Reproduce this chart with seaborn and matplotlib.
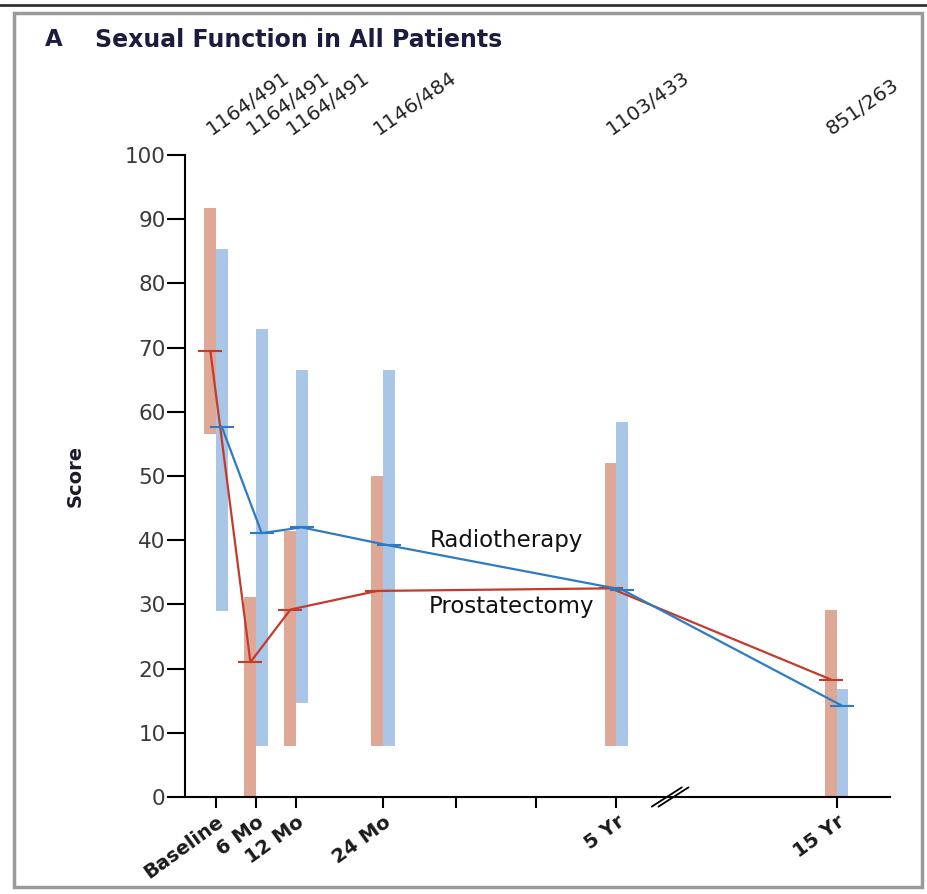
import matplotlib
matplotlib.use("Agg")
import matplotlib.pyplot as plt
import seaborn as sns
import pandas as pd
import numpy as np
from matplotlib.patches import Rectangle
from matplotlib.lines import Line2D

# ---------------- data ----------------
timepoints = ["Baseline", "6 Mo", "12 Mo", "24 Mo", "5 Yr", "15 Yr"]
axis_pos = [0, 6, 12, 25, 60, 93]          # position on the (broken) time axis
extra_ticks = [36, 48]                       # unlabeled yearly ticks
counts = ["1164/491", "1164/491", "1164/491", "1146/484", "1103/433", "851/263"]

prost_median = [69.5, 21.0, 29.2, 32.1, 32.5, 18.3]
prost_low = [56.5, 0.0, 8.0, 8.0, 8.0, 0.0]
prost_high = [91.7, 31.2, 41.4, 50.0, 52.0, 29.1]

radio_median = [57.7, 41.1, 42.0, 39.2, 32.3, 14.2]
radio_low = [29.0, 8.0, 14.6, 8.0, 8.0, 0.0]
radio_high = [85.4, 72.9, 66.5, 66.5, 58.4, 16.8]

# ---------------- style ----------------
sns.set_theme(style="white")
plt.rcParams["font.family"] = ["DejaVu Sans"]

bar_colors = {"Prostatectomy": "#dfa896", "Radiotherapy": "#a9c6e6"}
line_colors = {"Prostatectomy": "#c23b2c", "Radiotherapy": "#2d7cc3"}
offset = {"Prostatectomy": -0.85, "Radiotherapy": 0.85}
bar_w = 1.75

fig = plt.figure(figsize=(9.27, 8.94), dpi=100)
ax = fig.add_axes([185 / 927, 1 - 797 / 894, (890 - 185) / 927, (797 - 155) / 894])

# floating range bars
rows = []
for g, lo, hi, med in [("Prostatectomy", prost_low, prost_high, prost_median),
                       ("Radiotherapy", radio_low, radio_high, radio_median)]:
    xs = np.array(axis_pos, dtype=float)
    lo = np.array(lo); hi = np.array(hi)
    align_w = -bar_w if g == "Prostatectomy" else bar_w
    ax.bar(xs, hi - lo, bottom=lo, width=align_w, align="edge",
           color=bar_colors[g], edgecolor="none", zorder=1)
    for x, m in zip(xs, med):
        rows.append({"x": x + offset[g], "score": m, "group": g})

df = pd.DataFrame(rows)
sns.lineplot(data=df, x="x", y="score", hue="group", palette=line_colors,
             marker="_", markersize=17, markeredgewidth=1.5, linewidth=1.6,
             legend=False, ax=ax, zorder=3, sort=True)
for l in ax.lines:
    l.set_markeredgecolor(l.get_color())

# axes
ax.set_xlim(-4.65, 101)
ax.set_ylim(0, 100)
ax.set_yticks(range(0, 101, 10))
ax.set_yticklabels([str(v) for v in range(0, 101, 10)], fontsize=15.5, color="#3a3a3a")
major = sorted(axis_pos + extra_ticks)
ax.set_xticks(major)
lab_map = dict(zip(axis_pos, timepoints))
ax.set_xticklabels([lab_map.get(p, "") for p in major], fontsize=14,
                   fontweight="bold", rotation=36, ha="right",
                   rotation_mode="anchor", color="#1a1a1a")
ax.tick_params(axis="y", length=13, width=1.5, color="black", pad=1, left=True)
ax.tick_params(axis="x", length=8, width=1.5, color="black", pad=3, bottom=True)
for s in ["top", "right"]:
    ax.spines[s].set_visible(False)
for s in ["left", "bottom"]:
    ax.spines[s].set_color("black")
    ax.spines[s].set_linewidth(1.5)
ax.spines["left"].set_bounds(0, 100)
ax.set_xlabel("")
ax.set_ylabel("Score", fontsize=14, fontweight="bold", color="#1a1a2a")
ax.yaxis.set_label_coords(-0.143, 0.5)
ax.grid(False)

# axis break marks
for dx in (0, 1.0):
    ax.plot([65.3 + dx, 69.8 + dx], [-1.5, 1.5], color="black", lw=1.3,
            clip_on=False, zorder=5)

# counts above
for p, c in zip(axis_pos, counts):
    ax.text(p - 0.7, 103, c, rotation=35, rotation_mode="anchor", ha="left",
            va="baseline", fontsize=14.5, color="#222222", clip_on=False)

# line labels
ax.text(43.5, 40, "Radiotherapy", fontsize=16.5, ha="center", va="center", color="#111111")
ax.text(44.3, 29.6, "Prostatectomy", fontsize=16.5, ha="center", va="center", color="#111111")

# title
fig.text(45 / 927, 1 - 40 / 894, "A", fontsize=16.5, fontweight="bold",
         color="#1c1c3c", va="center", ha="left")
fig.text(95 / 927, 1 - 40 / 894, "Sexual Function in All Patients", fontsize=17,
         fontweight="bold", color="#1c1c3c", va="center", ha="left")

# frame
fig.patches.append(Rectangle((14 / 927, 1 - 887 / 894), (922 - 14) / 927, (887 - 13) / 894,
                             transform=fig.transFigure, fill=False,
                             edgecolor="#9a9a9a", linewidth=2.5))
fig.lines.append(Line2D([0, 1], [1 - 5 / 894, 1 - 5 / 894], transform=fig.transFigure,
                        color="#333333", linewidth=2))

fig.savefig("out.png", dpi=100)
